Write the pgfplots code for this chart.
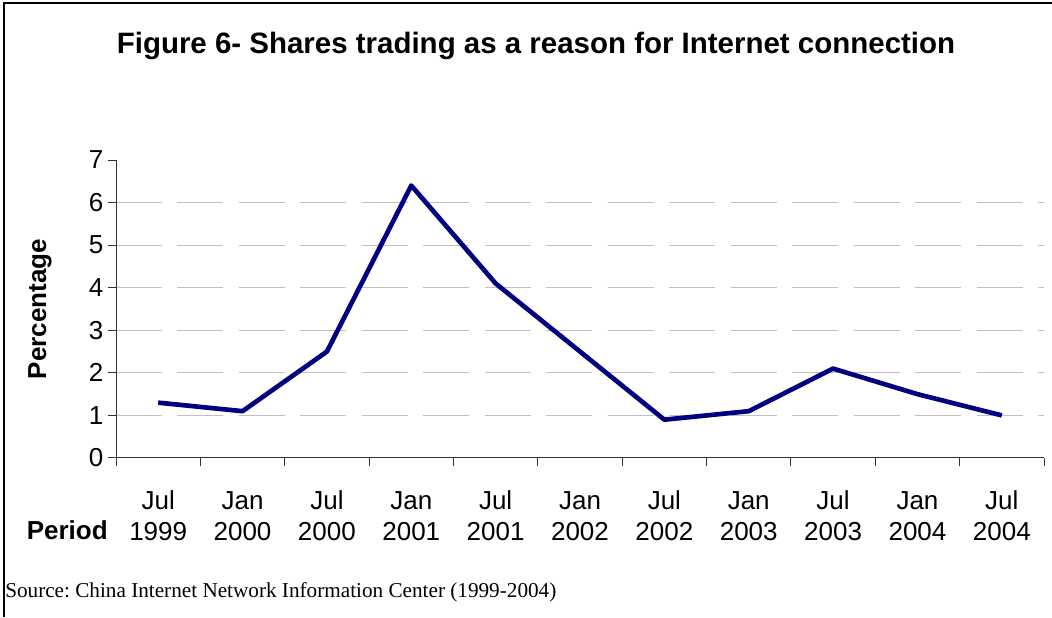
\documentclass[border=0pt]{standalone}
\usepackage{pgfplots}
\pgfplotsset{compat=1.18}
\usepackage{fontspec}
\setmainfont{Liberation Serif}
\newfontfamily\arial{Liberation Sans}
\definecolor{navyline}{RGB}{0,0,128}
\definecolor{gridgray}{RGB}{192,192,192}
\frenchspacing
\begin{document}
\begin{tikzpicture}[x=0.75pt,y=0.75pt]
\useasboundingbox (0,0) rectangle (1052,617);
\draw[line width=1.5pt] (3.5,0) -- (3.5,614) -- (1052,614);
\begin{axis}[
  at={(87pt,119.25pt)}, anchor=south west,
  scale only axis, width=696pt, height=223.5pt,
  xmin=-0.5, xmax=10.5, ymin=0, ymax=7,
  axis lines=left, axis line style={-, black!80, line width=0.75pt},
  tick align=outside, major tick length=6pt,
  tick style={black!80, line width=0.75pt},
  xtick={-0.5,0.5,...,10.5}, xticklabels={},
  extra x ticks={0,1,2,3,4,5,6,7,8,9,10},
  extra x tick labels={\strut Jul\\1999,\strut Jan\\2000,\strut Jul\\2000,\strut Jan\\2001,\strut Jul\\2001,\strut Jan\\2002,\strut Jul\\2002,\strut Jan\\2003,\strut Jul\\2003,\strut Jan\\2004,\strut Jul\\2004},
  extra x tick style={major tick length=0pt, tick style={draw=none},
     xticklabel style={align=center, anchor=north, font=\arial\fontsize{19.5}{23}\selectfont, yshift=-19pt}},
  ytick={1,2,3,4,5,6}, ymajorgrids,
  extra y ticks={0,7}, extra y tick style={grid=none},
  grid style={gridgray, line width=0.75pt, dash pattern=on 34.5pt off 11.6pt},
  yticklabel style={font=\arial\fontsize{19.5}{22.5}\selectfont},
  /pgf/number format/assume math mode=true,
  ylabel={Percentage},
  every axis y label/.style={at={(axis description cs:-0.082,0.5)}, rotate=90, anchor=center, font=\arial\bfseries\fontsize{19.5}{22.5}\selectfont},
  clip=false,
]
\addplot[navyline, line width=3.5pt, line join=round] coordinates {
(0,1.3) (1,1.1) (2,2.5) (3,6.4) (4,4.1) (5,2.5) (6,0.9) (7,1.1) (8,2.1) (9,1.5) (10,1.0)
};
\end{axis}
\node[font=\arial\bfseries\fontsize{22.1}{26}\selectfont] at (536,571) {Figure 6- Shares trading as a reason for Internet connection};
\node[font=\arial\bfseries\fontsize{19.5}{22.5}\selectfont, anchor=base east, inner sep=0pt] at (108,77) {Period};
\node[font=\fontsize{15.9}{19}\selectfont, anchor=base west, inner sep=0pt] at (5,19) {Source: China Internet Network Information Center (1999-2004)};
\end{tikzpicture}
\end{document}
